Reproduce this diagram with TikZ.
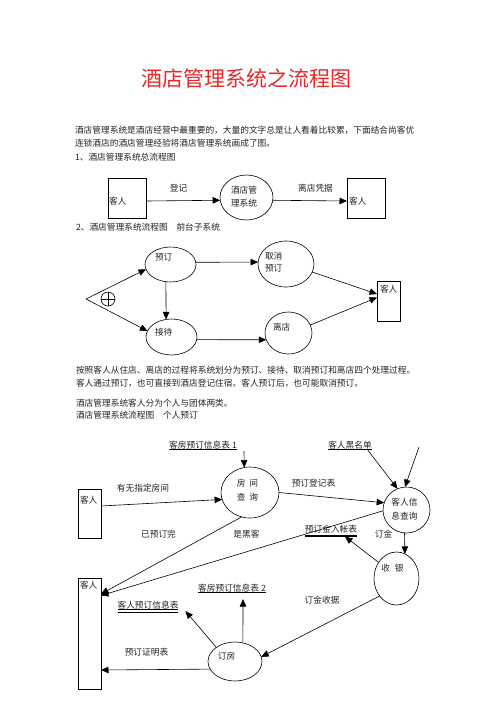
\documentclass[tikz,border=0pt]{standalone}
\usepackage{fontspec}
\setmainfont{Noto Sans CJK SC}
\usetikzlibrary{arrows.meta,shapes.geometric,calc}
\definecolor{titlered}{RGB}{230,40,40}
\definecolor{txt}{RGB}{35,35,35}
\begin{document}
\begin{tikzpicture}[x=1pt,y=-1pt,
  every node/.style={inner sep=0pt,outer sep=0pt,font=\fontsize{8.7pt}{10pt}\selectfont,text=txt},
  ell/.style={draw,ellipse,line width=0.6pt},
  box/.style={draw,rectangle,line width=0.6pt},
  ln/.style={line width=0.6pt},
  arr/.style={line width=0.6pt,-{Triangle[length=7.5pt,width=6.5pt]}},
  para/.style={anchor=west}]
\fill[white] (0,0) rectangle (496,702);
\useasboundingbox (0,0) rectangle (496,702);

% title
\node[font=\fontsize{21pt}{24pt}\selectfont,text=titlered] (title) at (246.5,78) {酒店管理系统之流程图};

% paragraph
\node[para] (p1) at (75,130) {酒店管理系统是酒店经营中最重要的，大量的文字总是让人看着比较累，下面结合尚客优};
\node[para] (p2) at (75,143) {连锁酒店的酒店管理经验将酒店管理系统画成了图。};
\node[para] (p3) at (75,157) {1、酒店管理系统总流程图};

% diagram 1
\node[box,minimum width=38pt,minimum height=40pt] (ca) at (127,198) {};
\node[ell,minimum width=53pt,minimum height=45pt] (sys) at (246.5,197.5) {};
\node[box,minimum width=38pt,minimum height=40pt] (cb) at (366,198) {};
\node[para] (cat) at (109,201) {客人};
\node[para] (cbt) at (349,201) {客人};
\node[para] (syt1) at (231,190) {酒店管};
\node[para] (syt2) at (231,203) {理系统};
\node (l1) at (178.5,188) {登记};
\node (l2) at (315.5,188) {离店凭据};
\draw[arr] ([yshift=-3pt]ca.east) -- (sys.186);
\draw[arr] (sys.-6) -- ([yshift=-3pt]cb.west);

\node[para] (p4) at (76,227) {2、酒店管理系统流程图\hspace{8.7pt}前台子系统};

% diagram 2
\node[ell,minimum width=51pt,minimum height=35pt] (yd) at (170.5,264.5) {};
\node[ell,minimum width=56pt,minimum height=46pt] (qx) at (286,264) {};
\node[ell,minimum width=51pt,minimum height=36pt] (jd) at (171.5,337) {};
\node[ell,minimum width=47pt,minimum height=42pt] (ld) at (288.5,333) {};
\node[box,minimum width=23pt,minimum height=40pt] (ck) at (388.5,301) {};
\node[para] (ydt) at (155,257) {预订};
\node[para] (qxt1) at (265,256.5) {取消};
\node[para] (qxt2) at (265,268.5) {预订};
\node[para] (jdt) at (155,332) {接待};
\node[para] (ldt) at (273,327) {离店};
\node[para] (ckt) at (380,289) {客人};
\coordinate (ap) at (86,299);
\node[draw,circle,minimum size=14pt,line width=0.6pt] (cp) at (108,299) {};
\draw[ln] (cp.north) -- (cp.south) (cp.west) -- (cp.east);
\draw[arr] (ap) -- (yd.191);
\draw[arr] (ap) -- (jd.166);
\draw[arr] (yd.5.6) -- (qx.176);
\draw[arr] (yd.255.6) -- (jd.107);
\draw[arr] (jd.-6.7) -- (ld.197.6);
\draw[arr] (qx.-17) -- ([yshift=7pt]ck.west);
\draw[arr] (ld.20) -- ([yshift=3.5pt]ck.west);

% paragraph 2
\node[para] (p5) at (76,370) {按照客人从住店、离店的过程将系统划分为预订、接待、取消预订和离店四个处理过程。};
\node[para] (p6) at (76,383) {客人通过预订，也可直接到酒店登记住宿。客人预订后，也可能取消预订。};
\node[para] (p7) at (76,403) {酒店管理系统客人分为个人与团体两类。};
\node[para] (p8) at (76,415) {酒店管理系统流程图\hspace{8.7pt}个人预订};

% diagram 3
\node (t1) at (203,445) {客房预订信息表 1};
\draw[ln] ([yshift=-0.6pt]t1.south west) -- ([yshift=-0.6pt]t1.south east);
\node (t2) at (350,445) {客人黑名单};
\draw[ln] ([yshift=-0.6pt]t2.south west) -- ([yshift=-0.6pt]t2.south east);

\node[ell,minimum width=58pt,minimum height=51pt] (fj) at (250,492.5) {};
\node[ell,minimum width=47pt,minimum height=46pt] (kx) at (406.5,510) {};
\node[ell,minimum width=45pt,minimum height=53pt] (sy) at (396.5,578.5) {};
\node[ell,minimum width=54pt,minimum height=39pt] (df) at (235,661.5) {};
\node[box,minimum width=23pt,minimum height=49pt] (kr1) at (89.5,513.5) {};
\node[box,minimum width=23pt,minimum height=111pt] (kr2) at (89.5,633.5) {};

\node (fjt1) at (247.5,483) {房\hspace{4pt}间};
\node (fjt2) at (247.5,497) {查\hspace{4pt}询};
\node (kxt1) at (404.5,502) {客人信};
\node (kxt2) at (404.5,516) {息查询};
\node (syt) at (392.5,568) {收\hspace{5pt}银};
\node (dft) at (226.5,656) {订房};
\node[para] (kr1t) at (80,500) {客人};
\node[para] (kr2t) at (80,585) {客人};

\node (m1) at (143,488) {有无指定房间};
\node (m2) at (313.5,483) {预订登记表};
\node (m3) at (158.5,534) {已预订完};
\node (m4) at (246.5,534) {是黑客};
\node (m5) at (383.5,534) {订金};
\node (m6) at (322,600) {订金收据};
\node (m7) at (146.5,652) {预订证明表};

\node (t3) at (331,529) {预订金入帐表};
\draw[line width=1.8pt] ([yshift=-3.2pt]t3.south west) -- ([yshift=-3.2pt]t3.south east);
\node (t4) at (232,588) {客房预订信息表 2};
\draw[ln] ([yshift=-0.7pt]t4.south west) -- ([yshift=-0.7pt]t4.south east);
\node (t5) at (148,605) {客人预订信息表};
\draw[ln] ([yshift=-0.7pt]t5.south west) -- ([yshift=-0.7pt]t5.south east);
\draw[ln] ([yshift=-3pt]t5.south west) -- ([yshift=-3pt]t5.south east);

\coordinate (a1) at (244,451);
\coordinate (a2) at (419,447);
\draw[arr] (a1) -- (fj.103);
\draw[arr] ([xshift=-4pt,yshift=-1pt]t2.south east) -- (kx.113);
\draw[arr] (a2) -- (kx.94);
\draw[arr] ([yshift=7.5pt]kr1.east) -- (fj.194.5);
\draw[arr] (fj.0) -- (kx.162);
\draw[arr] (kx.-95) -- (sy.71.5);
\draw[arr] (fj.251) -- ([yshift=39.5pt]kr2.east);
\draw[arr] (kx.182) -- ([yshift=38pt]kr2.east);
\draw[arr] (sy.138) -- ([xshift=14pt,yshift=-3.5pt]t3.south);
\draw[arr] (sy.226.5) -- (df.10);
\draw[arr] (df.67.7) -- ([xshift=11pt,yshift=-7pt]t4.south);
\draw[arr] (df.143) -- ([xshift=7pt,yshift=-2pt]t5.south east);
\draw[arr] (df.197.5) -- ([yshift=-36.5pt]kr2.east);
\end{tikzpicture}
\end{document}
